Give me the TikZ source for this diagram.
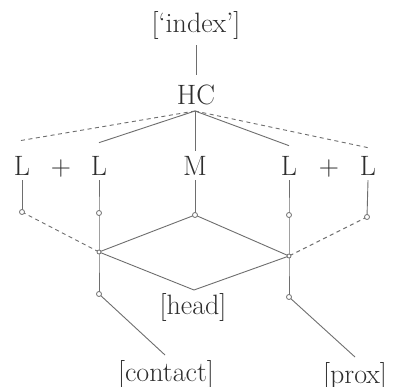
\documentclass[tikz,border=0pt]{standalone}
\definecolor{txt}{HTML}{2E2E2E}
\definecolor{ln}{HTML}{6E6E6E}
\tikzset{
  lbl/.style={font=\fontsize{28}{30}\selectfont, inner sep=0pt, anchor=base, text=txt},
  conn/.style={draw=ln, line width=0.9pt},
  dconn/.style={draw=ln, line width=0.9pt, dash pattern=on 4pt off 3.5pt},
  dot/.style={circle, draw=ln, fill=white, line width=0.8pt, inner sep=0pt, minimum size=5pt}
}
\begin{document}
\begin{tikzpicture}[x=1pt,y=-1pt]
\useasboundingbox[fill=white] (0,0) rectangle (393,387);
% labels
\node[lbl] (index) at (196,33) {[`index']};
\node[lbl] (HC) at (196,105) {HC};
\node[lbl] (L1) at (22,176) {L};
\node[lbl] (plus1) at (61,176) {+};
\node[lbl] (L2) at (99,176) {L};
\node[lbl] (M) at (195,176) {M};
\node[lbl] (L3) at (289,176) {L};
\node[lbl] (plus2) at (329,176) {+};
\node[lbl] (L4) at (368,176) {L};
\node[lbl] (head) at (193,314) {[head]};
\node[lbl] (contact) at (166,381) {[contact]};
\node[lbl] (prox) at (355,383) {[prox]};
% points
\coordinate (apex) at (195,111);
\coordinate (c1) at (22,212);
\coordinate (c2) at (99,213);
\coordinate (cM) at (195,215);
\coordinate (c3) at (289,215);
\coordinate (c4) at (367,217);
\coordinate (jL) at (99,252);
\coordinate (jR) at (289,256);
\coordinate (dB) at (194,290);
\coordinate (c2b) at (99,294);
\coordinate (c3b) at (289,297);
\coordinate (eC) at (165,355);
\coordinate (eP) at (355,357);
% top connectors
\draw[conn] ([yshift=-5pt]index.south) -- ([yshift=10pt]HC.north);
\draw[dconn] (apex) -- ([xshift=-2pt,yshift=16pt]L1.north);
\draw[conn] (apex) -- ([yshift=14pt]L2.north);
\draw[conn] (apex) -- ([yshift=6pt]M.north);
\draw[conn] (apex) -- ([yshift=11pt]L3.north);
\draw[dconn] (apex) -- ([yshift=9pt]L4.north);
% verticals
\draw[conn] ([yshift=-4pt]L1.south) -- (c1);
\draw[conn] ([yshift=-4pt]L2.south) -- (c2) -- (jL) -- (c2b);
\draw[conn] ([yshift=-4pt]M.south) -- (cM);
\draw[conn] ([yshift=-4pt]L3.south) -- (c3) -- (jR) -- (c3b);
\draw[conn] ([yshift=-4pt]L4.south) -- (c4);
% diamond
\draw[conn] (jL) -- (cM) -- (jR) -- (dB) -- cycle;
% dashed sides
\draw[dconn] (c1) -- (jL);
\draw[dconn] (c4) -- (jR);
% lower
\draw[conn] (c2b) -- (eC);
\draw[conn] (c3b) -- (eP);
% circles
\foreach \p in {c1,c2,cM,c3,c4,c2b,c3b}
  \node[dot] at (\p) {};
\foreach \p in {jL,jR}
  \node[dot, minimum size=4pt] at (\p) {};
\end{tikzpicture}
\end{document}
